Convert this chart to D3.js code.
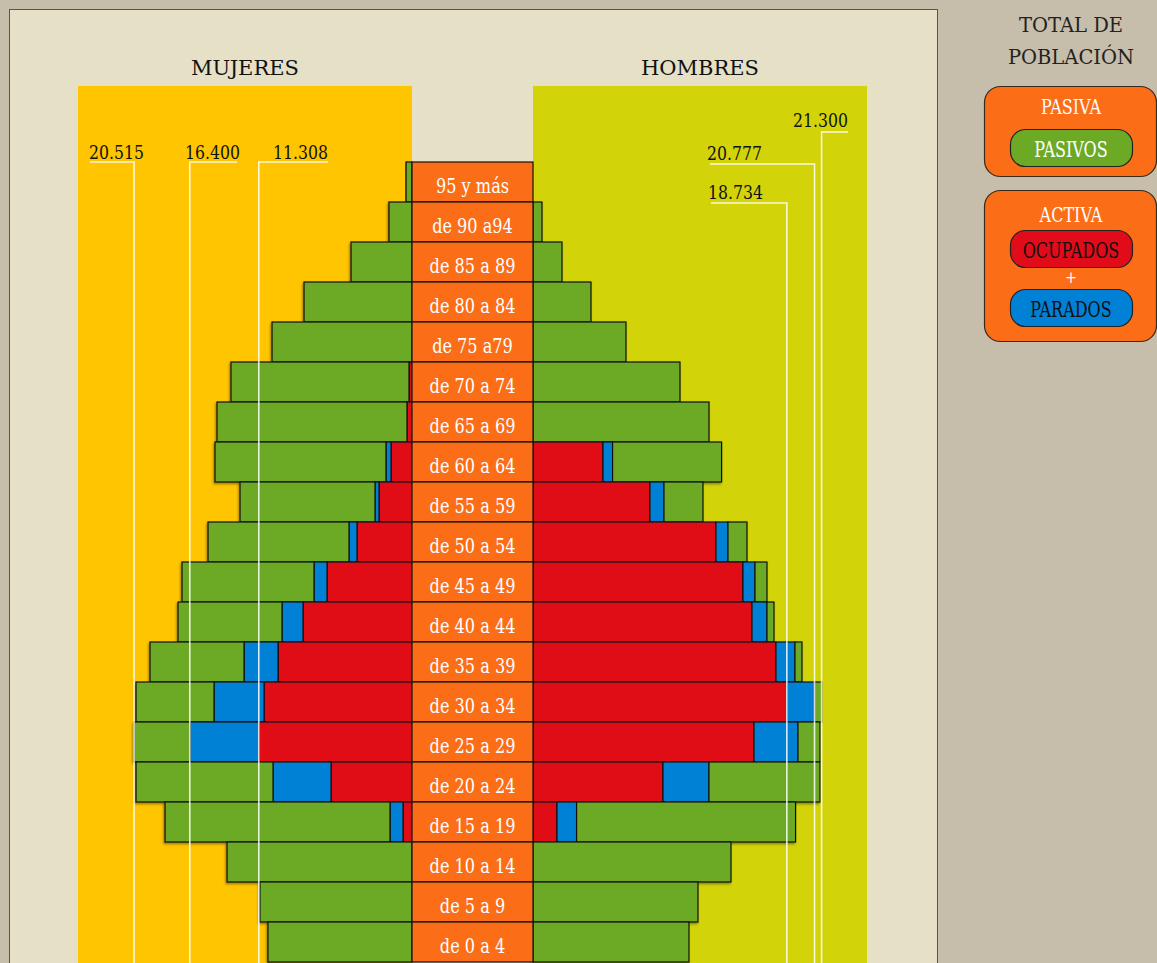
<!DOCTYPE html>
<html>
<head>
<meta charset="utf-8">
<script src="https://cdn.jsdelivr.net/npm/d3@7"></script>
<style>
  body { margin: 0; background: #c6bdaa; }
  svg { display: block; }
  text { font-family: "DejaVu Serif", serif; font-stretch: condensed; }
</style>
</head>
<body>
<script>
var width = 1157,
    height = 963;

// age groups, top to bottom
var ages = ["95 y más", "de 90 a94", "de 85 a 89", "de 80 a 84", "de 75 a79",
    "de 70 a 74", "de 65 a 69", "de 60 a 64", "de 55 a 59", "de 50 a 54",
    "de 45 a 49", "de 40 a 44", "de 35 a 39", "de 30 a 34", "de 25 a 29",
    "de 20 a 24", "de 15 a 19", "de 10 a 14", "de 5 a 9", "de 0 a 4"];

// mujeres
var mujOcupadas = [0, 0, 0, 0, 0, 220, 370, 1550, 2435, 4059, 6273, 8044, 9889, 10922, 11308, 5977, 664, 0, 0, 0];
var mujParadas = [0, 0, 0, 0, 0, 0, 0, 370, 295, 590, 959, 1550, 2509, 3690, 5092, 4280, 959, 0, 0, 0];
var mujPasivas = [440, 1700, 4500, 7970, 10330, 13140, 14020, 12620, 9962, 10405, 9741, 7675, 6937, 5756, 4115, 10110, 16604, 13650, 11220, 10630];

// hombres
var homOcupados = [0, 0, 0, 0, 0, 0, 0, 5166, 8634, 13505, 15497, 16162, 17932, 18734, 16310, 9594, 1771, 0, 0, 0];
var homParados = [0, 0, 0, 0, 0, 0, 0, 708, 1033, 886, 886, 1107, 1402, 2043, 3247, 3395, 1446, 0, 0, 0];
var homPasivos = [0, 664, 2140, 4280, 6863, 10848, 12990, 8044, 2878, 1402, 886, 517, 517, 523, 1624, 8191, 16162, 14612, 12176, 11512];

var colors = { ocupados: "#e10b19", parados: "#0081d5", pasivos: "#6caa25" };

var es = d3.formatLocale({ decimal: ",", thousands: ".", grouping: [3], currency: ["", " €"] });
var fmt = es.format(",d");

var svg = d3.select("body").append("svg")
    .attr("width", width)
    .attr("height", height);

var centerL = 412, centerR = 533, topY = 162, rowH = 40;
var maxV = 24650;

var xL = d3.scaleLinear().domain([0, maxV]).range([centerL, 78]);
var xR = d3.scaleLinear().domain([0, maxV]).range([centerR, 867]);
var y = d3.scaleBand().domain(ages).range([topY, topY + rowH * ages.length]);

// condensed face is still a bit wide, squeeze it horizontally
function place(x, y, s) {
    return "translate(" + x + "," + y + ") scale(" + (s || 0.92) + ",1)";
}

// panel
svg.append("rect")
    .attr("x", 9.5).attr("y", 9.5)
    .attr("width", 928).attr("height", height + 20)
    .attr("fill", "#e5e0c6")
    .attr("stroke", "#555");

svg.append("rect")
    .attr("x", xL(maxV)).attr("y", 86)
    .attr("width", xL(0) - xL(maxV)).attr("height", height)
    .attr("fill", "#fec500");

svg.append("rect")
    .attr("x", xR(0)).attr("y", 86)
    .attr("width", xR(maxV) - xR(0)).attr("height", height)
    .attr("fill", "#d2d309");

svg.selectAll(".sidetitle")
    .data([{ t: "MUJERES", x: (xL(0) + xL(maxV)) / 2 }, { t: "HOMBRES", x: (xR(0) + xR(maxV)) / 2 }])
    .enter().append("text")
    .attr("class", "sidetitle")
    .attr("x", function (d) { return d.x; }).attr("y", 75)
    .attr("text-anchor", "middle")
    .style("font-stretch", "normal")
    .attr("font-size", 21)
    .attr("fill", "#111")
    .text(function (d) { return d.t; });

// build stacked rows
var rows = ages.map(function (a, i) {
    return {
        age: a,
        muj: [
            { key: "ocupados", v0: 0, v1: mujOcupadas[i] },
            { key: "parados", v0: mujOcupadas[i], v1: mujOcupadas[i] + mujParadas[i] },
            { key: "pasivos", v0: mujOcupadas[i] + mujParadas[i], v1: mujOcupadas[i] + mujParadas[i] + mujPasivas[i] }
        ],
        hom: [
            { key: "ocupados", v0: 0, v1: homOcupados[i] },
            { key: "parados", v0: homOcupados[i], v1: homOcupados[i] + homParados[i] },
            { key: "pasivos", v0: homOcupados[i] + homParados[i], v1: homOcupados[i] + homParados[i] + homPasivos[i] }
        ]
    };
});

var defs = svg.append("defs");
var shadow = defs.append("filter").attr("id", "shadow")
    .attr("x", "-5%").attr("y", "-10%").attr("width", "110%").attr("height", "130%");
shadow.append("feDropShadow")
    .attr("dx", -1).attr("dy", 1.5).attr("stdDeviation", 1)
    .attr("flood-color", "#000").attr("flood-opacity", 0.4);

var rowG = svg.selectAll(".row")
    .data(rows)
    .enter().append("g")
    .attr("class", "row")
    .attr("filter", "url(#shadow)");

function segs(side) {
    return function (d) {
        return d[side].filter(function (s) { return s.v1 > s.v0; })
            .map(function (s) { s.age = d.age; return s; });
    };
}

rowG.selectAll(".muj")
    .data(segs("muj"))
    .enter().append("rect")
    .attr("class", "muj")
    .attr("x", function (d) { return xL(d.v1); })
    .attr("y", function (d) { return y(d.age); })
    .attr("width", function (d) { return xL(d.v0) - xL(d.v1); })
    .attr("height", y.bandwidth())
    .attr("fill", function (d) { return colors[d.key]; })
    .attr("stroke", "#111")
    .attr("stroke-width", 1.2);

rowG.selectAll(".hom")
    .data(segs("hom"))
    .enter().append("rect")
    .attr("class", "hom")
    .attr("x", function (d) { return xR(d.v0); })
    .attr("y", function (d) { return y(d.age); })
    .attr("width", function (d) { return xR(d.v1) - xR(d.v0); })
    .attr("height", y.bandwidth())
    .attr("fill", function (d) { return colors[d.key]; })
    .attr("stroke", "#111")
    .attr("stroke-width", 1.2);

// age labels
var lab = svg.selectAll(".agelab")
    .data(ages)
    .enter().append("g")
    .attr("class", "agelab");

lab.append("rect")
    .attr("x", centerL).attr("y", function (d) { return y(d); })
    .attr("width", centerR - centerL).attr("height", y.bandwidth())
    .attr("fill", "#fb6e17")
    .attr("stroke", "#111")
    .attr("stroke-width", 1.2);

lab.append("text")
    .attr("transform", function (d) { return place((centerL + centerR) / 2, y(d) + 31); })
    .attr("text-anchor", "middle")
    .attr("font-size", 19.5)
    .attr("fill", "#fff")
    .text(function (d) { return d; });

// reference lines for maxima
var mujActivas = mujOcupadas.map(function (v, i) { return v + mujParadas[i]; });
var mujTotal = mujActivas.map(function (v, i) { return v + mujPasivas[i]; });
var homActivos = homOcupados.map(function (v, i) { return v + homParados[i]; });
var homTotal = homActivos.map(function (v, i) { return v + homPasivos[i]; });

var marks = [
    { value: d3.max(mujTotal), side: "L", ly: 162, end: 90, tx: 89, ty: 159, anchor: "start" },
    { value: d3.max(mujActivas), side: "L", ly: 162, end: 237, tx: 185, ty: 159, anchor: "start" },
    { value: d3.max(mujOcupadas), side: "L", ly: 162, end: 328, tx: 328, ty: 159, anchor: "end" },
    { value: d3.max(homTotal), side: "R", ly: 132, end: 848, tx: 848, ty: 127, anchor: "end" },
    { value: d3.max(homActivos), side: "R", ly: 164, end: 710, tx: 707, ty: 160, anchor: "start" },
    { value: d3.max(homOcupados), side: "R", ly: 203, end: 711, tx: 708, ty: 199, anchor: "start" }
];

var mk = svg.selectAll(".mark")
    .data(marks)
    .enter().append("g")
    .attr("class", "mark");

mk.append("path")
    .attr("d", function (d) {
        var x = d.side == "L" ? xL(d.value) : xR(d.value);
        return "M" + d.end + "," + d.ly + "H" + x + "V" + height;
    })
    .attr("fill", "none")
    .attr("stroke", "#fff")
    .attr("stroke-opacity", 0.85)
    .attr("stroke-width", 1.6);

mk.append("text")
    .attr("transform", function (d) { return place(d.tx, d.ty); })
    .attr("text-anchor", function (d) { return d.anchor; })
    .attr("font-size", 19)
    .attr("fill", "#111")
    .text(function (d) { return fmt(d.value); });

// legend
var legX = 1071;

svg.selectAll(".legtop")
    .data(["TOTAL DE", "POBLACIÓN"])
    .enter().append("text")
    .attr("class", "legtop")
    .attr("x", legX).attr("y", function (d, i) { return 32 + i * 32; })
    .attr("text-anchor", "middle")
    .style("font-stretch", "normal")
    .attr("font-size", 19.5)
    .attr("fill", "#222")
    .text(function (d) { return d; });

var boxes = [
    { y: 86, h: 90, title: "PASIVA", titleY: 114 },
    { y: 190, h: 151, title: "ACTIVA", titleY: 222 }
];

svg.selectAll(".legbox")
    .data(boxes)
    .enter().append("rect")
    .attr("class", "legbox")
    .attr("x", 984.5).attr("y", function (d) { return d.y + 0.5; })
    .attr("width", 172).attr("height", function (d) { return d.h; })
    .attr("rx", 16)
    .attr("fill", "#fb6e17")
    .attr("stroke", "#3a2a1a")
    .attr("stroke-width", 1.2);

svg.selectAll(".legtitle")
    .data(boxes)
    .enter().append("text")
    .attr("class", "legtitle")
    .attr("transform", function (d) { return place(legX, d.titleY, 0.87); })
    .attr("text-anchor", "middle")
    .attr("font-size", 20.5)
    .attr("fill", "#fff")
    .text(function (d) { return d.title; });

var pills = [
    { key: "pasivos", label: "PASIVOS", y: 129, text: "#fff" },
    { key: "ocupados", label: "OCUPADOS", y: 230, text: "#111" },
    { key: "parados", label: "PARADOS", y: 289, text: "#111" }
];

svg.selectAll(".pill")
    .data(pills)
    .enter().append("rect")
    .attr("class", "pill")
    .attr("x", 1010.5).attr("y", function (d) { return d.y + 0.5; })
    .attr("width", 122).attr("height", 37)
    .attr("rx", 15)
    .attr("fill", function (d) { return colors[d.key]; })
    .attr("stroke", "#222")
    .attr("stroke-width", 1.2);

svg.selectAll(".pilltext")
    .data(pills)
    .enter().append("text")
    .attr("class", "pilltext")
    .attr("transform", function (d) { return place(legX, d.y + 28, 0.81); })
    .attr("text-anchor", "middle")
    .attr("font-size", 22)
    .attr("fill", function (d) { return d.text; })
    .text(function (d) { return d.label; });

svg.append("text")
    .attr("x", legX).attr("y", 283)
    .attr("text-anchor", "middle")
    .attr("font-size", 16)
    .attr("fill", "#fff")
    .text("+");
</script>
</body>
</html>
